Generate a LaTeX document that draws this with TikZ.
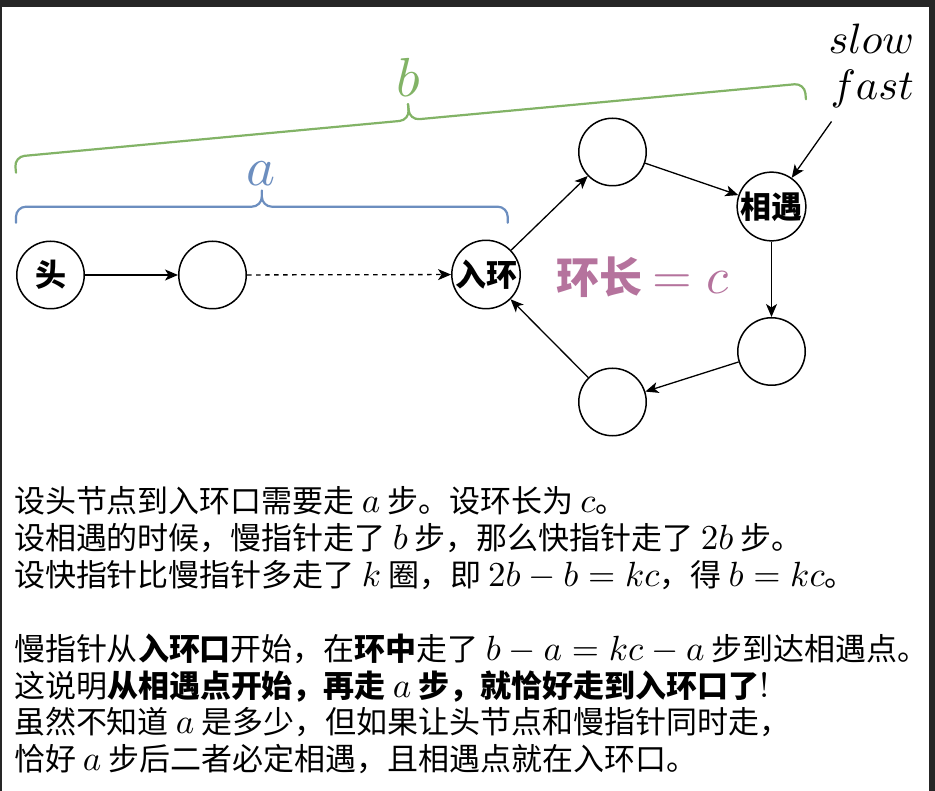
\RequirePackage{fix-cm}
\documentclass[tikz,border=0pt]{standalone}
\DeclareFontShape{OML}{cmm}{m}{it}{<->cmmi10}{}
\DeclareFontShape{OT1}{cmr}{m}{n}{<->cmr10}{}
\DeclareFontShape{OMS}{cmsy}{m}{n}{<->cmsy10}{}
\usepackage[no-math]{fontspec}
\setmainfont{Noto Sans CJK SC}
\usetikzlibrary{arrows.meta}
\definecolor{framec}{HTML}{262626}
\definecolor{bluea}{HTML}{6C8EBF}
\definecolor{greenb}{HTML}{82B366}
\definecolor{purp}{HTML}{B5739D}
\newcommand\mth[1]{{\fontsize{35pt}{36.8pt}\selectfont$#1$}}
\begin{document}
\begin{tikzpicture}[x=1pt,y=-1pt,
  circ/.style={circle,draw,line width=1.5pt,minimum size=67.5pt,inner sep=0pt,font=\fontsize{31pt}{31pt}\selectfont\bfseries},
  arr/.style={line width=1.3pt,-{Stealth[length=13pt,width=11pt,inset=3.5pt]}},
  bracestyle/.style={line width=2.2pt,rounded corners=10pt,line cap=round},
  txt/.style={anchor=base west,inner sep=0pt,text height=25pt,text depth=7pt,font=\fontsize{31pt}{36.8pt}\selectfont},
  lbl/.style={anchor=base,inner sep=0pt}
  ]
\useasboundingbox (0,0) rectangle (935,791);
\fill[white] (0,0) rectangle (935,791);
\fill[framec] (0,0) rectangle (935,7);
\fill[framec] (0,0) rectangle (2,791);
\fill[framec] (929.3,0) rectangle (935,791);

% brace a
\draw[bracestyle,bluea] (16,222.7) -- (16,206.7) -- (261.85,206.7) -- (261.85,190.7);
\draw[bracestyle,bluea] (507.7,222.7) -- (507.7,206.7) -- (261.85,206.7) -- (261.85,190.7);
\node[lbl,text=bluea,font=\fontsize{55pt}{55pt}\selectfont] (la) at (261,185.5) {$a$};

% brace b
\begin{scope}[shift={(16,172.7)},rotate=5.31]
  \draw[bracestyle,greenb] (0,0) -- (0,-16) -- (396.7,-16) -- (396.7,-32);
  \draw[bracestyle,greenb] (793.4,0) -- (793.4,-16) -- (396.7,-16) -- (396.7,-32);
\end{scope}
\node[lbl,text=greenb,font=\fontsize{55pt}{55pt}\selectfont] (lb) at (408.5,96.5) {$b$};

% nodes
\node[circ] (head) at (50.5,275) {头};
\node[circ] (n2) at (212.5,275) {};
\node[circ] (ring) at (486,274.5) {入环};
\node[circ] (top) at (612.5,152) {};
\node[circ] (meet) at (771.5,206.5) {相遇};
\node[circ] (rl) at (771.5,351.5) {};
\node[circ] (bot) at (612.5,402) {};

\draw[arr] (head) -- (n2);
\draw[arr,dash pattern=on 4.5pt off 4.5pt] (n2) -- (ring);
\draw[arr] (ring) -- (top);
\draw[arr] (top) -- (meet);
\draw[arr] (meet) -- (rl);
\draw[arr] (rl) -- (bot);
\draw[arr] (bot) -- (ring);

% slow / fast
\node[lbl,font=\fontsize{42.5pt}{42.5pt}\selectfont] (slow) at (871.3,53.3) {$slow$};
\node[lbl,font=\fontsize{42.5pt}{42.5pt}\selectfont] (fast) at (872.2,100) {$fast$};
\coordinate (sf) at (831.5,121.5);
\draw[arr] (sf) -- (meet);

% ring length
\node[anchor=base west,inner sep=0pt,text=purp] (clen) at (556.5,293.5)
  {\fontsize{43pt}{43pt}\selectfont\bfseries 环长\hspace{10pt}\fontsize{51pt}{51pt}\selectfont$=c$};

% text
\node[txt] (t1) at (13.8,513) {设头节点到入环口需要走 \mth{a} 步。设环长为 \mth{c}。};
\node[txt] (t2) at (13.8,549.8) {设相遇的时候，慢指针走了 \mth{b} 步，那么快指针走了 \mth{2b} 步。};
\node[txt] (t3) at (13.8,586.6) {设快指针比慢指针多走了 \mth{k} 圈，即 \mth{2b-b=kc}，得 \mth{b=kc}。};
\node[txt] (t4) at (13.8,660.2) {慢指针从\textbf{入环口}开始，在\textbf{环中}走了 \mth{b-a=kc-a} 步到达相遇点。};
\node[txt] (t5) at (13.8,697) {这说明\textbf{从相遇点开始，再走} \mth{a} \textbf{步，就恰好走到入环口了}\mth{!}};
\node[txt] (t6) at (13.8,733.8) {虽然不知道 \mth{a} 是多少，但如果让头节点和慢指针同时走，};
\node[txt] (t7) at (13.8,770.6) {恰好 \mth{a} 步后二者必定相遇，且相遇点就在入环口。};
\end{tikzpicture}
\end{document}
